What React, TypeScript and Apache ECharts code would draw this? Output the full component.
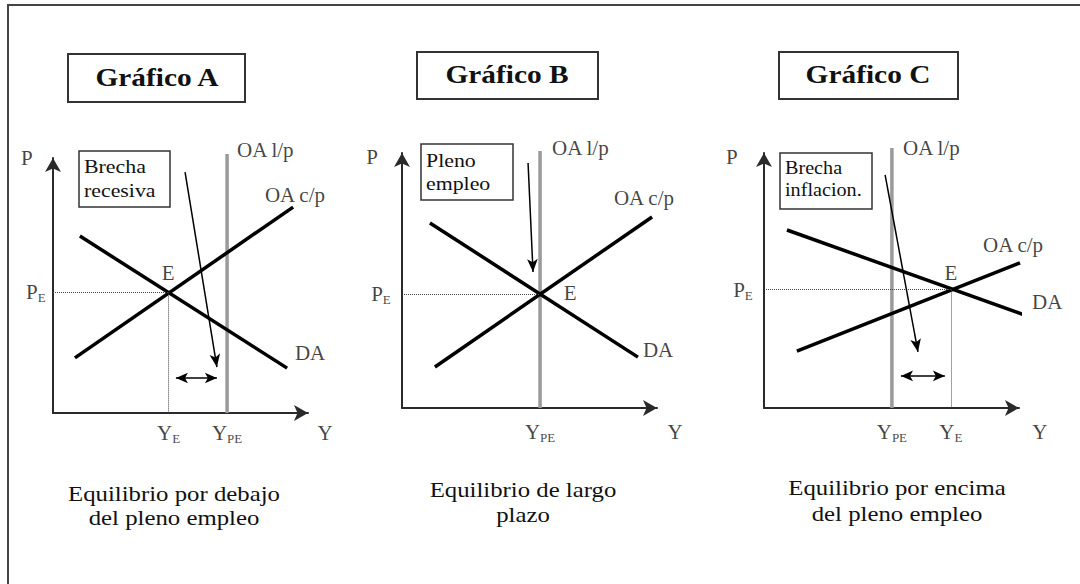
import React, { useEffect, useRef } from 'react';
import * as echarts from 'echarts';

const FONT = "'Liberation Serif', 'Times New Roman', serif";
const INK = '#111';

// ---- Panel A: equilibrium below full employment ----
const oaLpA = [[6.67, 0], [6.67, 9.92]];
const oaCpA = [[0.84, 2.11], [9.2, 7.89]];
const daA = [[1.03, 6.78], [8.97, 1.72]];
const eqA = [4.43, 4.62];
const pointerA = [[5.06, 9.23], [6.28, 1.76]];
const gapA = [[4.71, 1.34], [6.28, 1.34]];

// ---- Panel B: long-run equilibrium ----
const oaLpB = [[5.29, 0], [5.29, 9.85]];
const oaCpB = [[1.26, 1.57], [9.58, 7.32]];
const daB = [[1.07, 7.09], [9.04, 1.95]];
const eqB = [5.29, 4.36];
const pointerB = [[4.83, 9.39], [5.02, 5.21]];

// ---- Panel C: equilibrium above full employment ----
const oaLpC = [[4.9, 0], [4.9, 9.96]];
const oaCpC = [[1.26, 2.18], [9.81, 5.56]];
const daC = [[0.88, 6.82], [10.11, 3.52]];
const eqC = [7.16, 4.54];
const pointerC = [[4.64, 8.93], [5.9, 2.15]];
const gapC = [[5.25, 1.23], [6.93, 1.23]];

// ---- Texts ----
const titles = ['Gráfico A', 'Gráfico B', 'Gráfico C'];
const notes = [['Brecha', 'recesiva'], ['Pleno', 'empleo'], ['Brecha', 'inflacion.']];
const captions = [
  ['Equilibrio por debajo', 'del pleno empleo'],
  ['Equilibrio de largo', 'plazo'],
  ['Equilibrio por encima', 'del pleno empleo'],
];

const sub = (m: string, s: string) => `{m|${m}}{s|${s}}`;

type Lbl = [string, number[], 'c' | 'l' | 'r'];

const panels = [
  {
    grid: { left: 53, top: 158, width: 255, height: 255 },
    oaLp: oaLpA, oaCp: oaCpA, da: daA, eq: eqA, pointer: pointerA, gap: gapA as number[][] | null, yeLine: true,
    labels: [
      ['P', [-1.0, 9.77], 'c'],
      ['OA l/p', [7.05, 10.08], 'l'],
      ['OA c/p', [8.12, 8.35], 'l'],
      ['DA', [9.27, 2.3], 'l'],
      ['E', [eqA[0] - 0.02, 5.36], 'c'],
      [sub('P', 'E'), [-0.28, eqA[1]], 'r'],
      [sub('Y', 'E'), [eqA[0], -0.77], 'c'],
      [sub('Y', 'PE'), [oaLpA[0][0], -0.77], 'c'],
      ['Y', [10.42, -0.77], 'c'],
    ] as Lbl[],
  },
  {
    grid: { left: 402, top: 153, width: 255, height: 255 },
    oaLp: oaLpB, oaCp: oaCpB, da: daB, eq: eqB, pointer: pointerB, gap: null, yeLine: false,
    labels: [
      ['P', [-1.15, 9.62], 'c'],
      ['OA l/p', [5.75, 9.96], 'l'],
      ['OA c/p', [8.12, 8.05], 'l'],
      ['DA', [9.23, 2.22], 'l'],
      ['E', [6.44, eqB[1] + 0.05], 'c'],
      [sub('P', 'E'), [-0.43, eqB[1]], 'r'],
      [sub('Y', 'PE'), [oaLpB[0][0], -0.92], 'c'],
      ['Y', [10.46, -0.92], 'c'],
    ] as Lbl[],
  },
  {
    grid: { left: 764, top: 153, width: 255, height: 255 },
    oaLp: oaLpC, oaCp: oaCpC, da: daC, eq: eqC, pointer: pointerC, gap: gapC, yeLine: true,
    labels: [
      ['P', [-1.23, 9.62], 'c'],
      ['OA l/p', [5.33, 9.96], 'l'],
      ['OA c/p', [8.39, 6.25], 'l'],
      ['DA', [10.27, 4.06], 'l'],
      ['E', [eqC[0], 5.17], 'c'],
      [sub('P', 'E'), [-0.43, eqC[1]], 'r'],
      [sub('Y', 'PE'), [oaLpC[0][0], -0.92], 'c'],
      [sub('Y', 'E'), [eqC[0], -0.92], 'c'],
      ['Y', [10.57, -0.92], 'c'],
    ] as Lbl[],
  },
];

const AX_MAX = 9.77;

function buildOption() {
  const grid: any[] = [];
  const xAxis: any[] = [];
  const yAxis: any[] = [];
  const series: any[] = [];

  const axisBase = {
    type: 'value',
    min: 0,
    max: AX_MAX,
    axisLine: {
      show: true,
      onZero: false,
      symbol: ['none', 'arrow'],
      symbolSize: [12, 14],
      lineStyle: { color: '#2a2a2a', width: 2 },
    },
    axisTick: { show: false },
    axisLabel: { show: false },
    splitLine: { show: false },
  };

  panels.forEach((p, i) => {
    grid.push({ ...p.grid, containLabel: false });
    xAxis.push({ ...axisBase, gridIndex: i });
    yAxis.push({ ...axisBase, gridIndex: i });
    const common = { xAxisIndex: i, yAxisIndex: i, silent: true, clip: false, symbol: 'none', animation: false };

    // long-run supply (grey vertical)
    series.push({
      ...common,
      type: 'line',
      data: p.oaLp,
      lineStyle: { color: '#9a9a9a', width: 3.5 },
      z: 2,
    });

    // dotted guides
    const dotted: any[] = [[{ coord: [0, p.eq[1]] }, { coord: p.eq }]];
    if (p.yeLine) dotted.push([{ coord: p.eq }, { coord: [p.eq[0], 0] }]);

    series.push({
      ...common,
      type: 'line',
      data: p.oaCp,
      lineStyle: { color: '#000', width: 3.5 },
      z: 3,
      markLine: {
        silent: true,
        symbol: ['none', 'none'],
        label: { show: false },
        emphasis: { disabled: true },
        lineStyle: { type: 'dotted', color: '#444', width: 1 },
        data: dotted,
      },
    });

    // arrows
    const arrows: any[] = [
      [
        { coord: p.pointer[0], symbol: 'none' },
        { coord: p.pointer[1], symbol: 'arrow', symbolSize: [8, 13] },
      ],
    ];
    if (p.gap) {
      arrows.push([
        { coord: p.gap[0], symbol: 'arrow', symbolSize: [8, 12] },
        { coord: p.gap[1], symbol: 'arrow', symbolSize: [8, 12] },
      ]);
    }

    series.push({
      ...common,
      type: 'line',
      data: p.da,
      lineStyle: { color: '#000', width: 3.5 },
      z: 3,
      markLine: {
        silent: true,
        label: { show: false },
        emphasis: { disabled: true },
        itemStyle: { color: '#000' },
        lineStyle: { type: 'solid', color: '#000', width: 1.5 },
        data: arrows,
      },
    });

    // text labels anchored in data space
    series.push({
      type: 'scatter',
      xAxisIndex: i,
      yAxisIndex: i,
      silent: true,
      clip: false,
      symbolSize: 0,
      animation: false,
      z: 5,
      label: {
        show: true,
        fontFamily: FONT,
        fontSize: 21,
        color: INK,
        rich: {
          m: { fontFamily: FONT, fontSize: 21, color: INK, lineHeight: 24, verticalAlign: 'middle' },
          s: {
            fontFamily: FONT,
            fontSize: 13,
            color: INK,
            lineHeight: 13,
            padding: [11, 0, 0, 0],
            verticalAlign: 'middle',
          },
        },
      },
      data: p.labels.map(([text, pos, al]) => ({
        value: pos,
        label: {
          show: true,
          formatter: text,
          position: al === 'c' ? 'inside' : al === 'l' ? 'right' : 'left',
          distance: 0,
        },
      })),
    });
  });

  // layout boxes and texts
  const titleBoxes = [
    { x: 68, y: 54, w: 177, h: 48, cx: 157, cy: 77 },
    { x: 417, y: 52, w: 181, h: 47, cx: 507, cy: 74 },
    { x: 779, y: 52, w: 179, h: 47, cx: 868, cy: 74 },
  ];
  const noteBoxes = [
    { x: 79, y: 151, w: 91, h: 56, tx: 84, ty: [167, 191], fs: 19, sx: 1.15 },
    { x: 421, y: 144, w: 92, h: 56, tx: 426, ty: [161, 184], fs: 19, sx: 1.15 },
    { x: 780, y: 153, w: 92, h: 56, tx: 785, ty: [168, 190], fs: 18, sx: 1.12 },
  ];
  const captionPos = [
    { cx: 174, ty: [494, 518] },
    { cx: 523, ty: [490, 515] },
    { cx: 897, ty: [488, 514] },
  ];

  const graphic: any[] = [
    {
      type: 'rect',
      silent: true,
      shape: { x: 8, y: 5, width: 1100, height: 700 },
      style: { fill: 'none', stroke: '#444', lineWidth: 2 },
    },
  ];
  titleBoxes.forEach((b, i) => {
    graphic.push({
      type: 'rect',
      silent: true,
      shape: { x: b.x, y: b.y, width: b.w, height: b.h },
      style: { fill: '#fff', stroke: '#333', lineWidth: 2 },
    });
    graphic.push({
      type: 'text',
      silent: true,
      x: b.cx,
      y: b.cy,
      scaleX: 1.13,
      style: {
        text: titles[i],
        fontFamily: FONT,
        fontSize: 26,
        fontWeight: 'bold',
        fill: INK,
        textAlign: 'center',
        textVerticalAlign: 'middle',
      },
    });
  });
  noteBoxes.forEach((b, i) => {
    graphic.push({
      type: 'rect',
      silent: true,
      z: 10,
      shape: { x: b.x, y: b.y, width: b.w, height: b.h },
      style: { fill: '#fff', stroke: '#333', lineWidth: 1.5 },
    });
    notes[i].forEach((line, k) => {
      graphic.push({
        type: 'text',
        silent: true,
        z: 11,
        x: b.tx,
        y: b.ty[k],
        scaleX: b.sx,
        style: {
          text: line,
          fontFamily: FONT,
          fontSize: b.fs,
          fill: INK,
          textAlign: 'left',
          textVerticalAlign: 'middle',
        },
      });
    });
  });
  captionPos.forEach((c, i) => {
    captions[i].forEach((line, k) => {
      graphic.push({
        type: 'text',
        silent: true,
        x: c.cx,
        y: c.ty[k],
        scaleX: 1.18,
        style: {
          text: line,
          fontFamily: FONT,
          fontSize: 21,
          fill: INK,
          textAlign: 'center',
          textVerticalAlign: 'middle',
        },
      });
    });
  });

  return {
    animation: false,
    backgroundColor: '#fff',
    grid,
    xAxis,
    yAxis,
    series,
    graphic,
  };
}

export default function App() {
  const ref = useRef<HTMLDivElement>(null);
  useEffect(() => {
    if (!ref.current) return;
    const chart = echarts.init(ref.current, undefined, { renderer: 'svg' });
    chart.setOption(buildOption() as any);
    return () => chart.dispose();
  }, []);
  return (
    <div
      ref={ref}
      style={{ position: 'fixed', left: 0, top: 0, width: 1080, height: 584, background: '#fff' }}
    />
  );
}
